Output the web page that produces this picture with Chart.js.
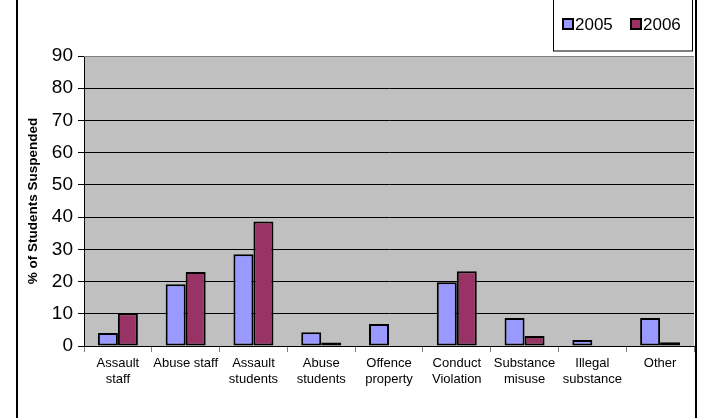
<!DOCTYPE html>
<html>
<head>
<meta charset="utf-8">
<script src="https://cdn.jsdelivr.net/npm/chart.js@4.4.1/dist/chart.umd.min.js"></script>
<style>
    html, body { margin: 0; padding: 0; background: #ffffff; }
    #wrap { width: 707px; height: 418px; }
</style>
</head>
<body>
<div id="wrap"><canvas id="suspChart" width="707" height="418"></canvas></div>
<script>
// Chart data
const categories = [
    ['Assault', 'staff'], 'Abuse staff', ['Assault', 'students'], ['Abuse', 'students'],
    ['Offence', 'property'], ['Conduct', 'Violation'], ['Substance', 'misuse'],
    ['Illegal', 'substance'], 'Other'
];
const seriesNames = ['2005', '2006'];
const values2005 = [4, 19.2, 28.5, 4.3, 6.8, 19.8, 8.7, 1.9, 8.7];
const values2006 = [10.2, 23, 38.6, 1.1, null, 23.2, 3.1, null, 1.2];
const yTickMin = 0;
const yTickMax = 90;
const yTickStep = 10;

const FONT = "'Liberation Sans', Arial, sans-serif";
const seriesColors = ['#9999FF', '#993366'];

// Grey plot background, plot border, outer frame and the boxed legend
const decorPlugin = {
    id: 'decor',
    beforeDraw(chart) {
        const { ctx, chartArea: a } = chart;
        ctx.save();
        ctx.fillStyle = '#C0C0C0';
        ctx.fillRect(a.left, a.top, a.right - a.left, a.bottom - a.top);
        ctx.restore();
    },
    afterDraw(chart) {
        const { ctx, chartArea: a } = chart;
        ctx.save();
        // plot border (top)
        ctx.strokeStyle = '#808080';
        ctx.lineWidth = 1;
        ctx.beginPath();
        ctx.moveTo(a.left, a.top + 0.5);
        ctx.lineTo(a.right, a.top + 0.5);
        ctx.stroke();

        // outer frame lines
        ctx.strokeStyle = '#000000';
        ctx.lineWidth = 2;
        ctx.beginPath();
        ctx.moveTo(17, 0); ctx.lineTo(17, 418);
        ctx.moveTo(696, 0); ctx.lineTo(696, 418);
        ctx.stroke();

        // legend box
        ctx.fillStyle = '#ffffff';
        ctx.fillRect(553, -2, 139, 53);
        ctx.strokeStyle = '#000000';
        ctx.lineWidth = 1;
        ctx.strokeRect(553.5, -2, 139, 53);

        const items = chart.data.datasets.map((ds, i) => ({ label: ds.label, color: seriesColors[i] }));
        const xs = [563, 631];
        ctx.font = '17px ' + FONT;
        ctx.textBaseline = 'middle';
        items.forEach((item, i) => {
            ctx.fillStyle = item.color;
            ctx.fillRect(xs[i], 19, 10, 10);
            ctx.strokeStyle = '#000000';
            ctx.lineWidth = 2;
            ctx.strokeRect(xs[i], 19, 10, 10);
            ctx.fillStyle = '#000000';
            ctx.fillText(item.label, xs[i] + 12, 25);
        });
        ctx.restore();
    }
};

new Chart(document.getElementById('suspChart'), {
    type: 'bar',
    data: {
        labels: categories,
        datasets: [
            {
                label: seriesNames[0],
                data: values2005,
                backgroundColor: seriesColors[0],
                borderColor: '#000000',
                borderWidth: 2,
                borderSkipped: false,
                categoryPercentage: 0.59,
                barPercentage: 1
            },
            {
                label: seriesNames[1],
                data: values2006,
                backgroundColor: seriesColors[1],
                borderColor: '#000000',
                borderWidth: 2,
                borderSkipped: false,
                categoryPercentage: 0.59,
                barPercentage: 1
            }
        ]
    },
    options: {
        responsive: false,
        devicePixelRatio: 1,
        animation: false,
        layout: { padding: { top: 56, left: 17, right: 13, bottom: 0 } },
        plugins: {
            legend: { display: false },
            tooltip: { enabled: false }
        },
        scales: {
            y: {
                min: yTickMin,
                max: yTickMax,
                ticks: {
                    stepSize: yTickStep,
                    color: '#000000',
                    font: { family: FONT, size: 19 },
                    padding: 5
                },
                grid: {
                    color: '#000000',
                    lineWidth: 1,
                    tickLength: 6
                },
                border: { color: '#000000', width: 1 },
                title: {
                    display: true,
                    text: '% of Students Suspended',
                    color: '#000000',
                    font: { family: FONT, size: 13.5, weight: 'bold' },
                    padding: { top: 8, bottom: 0 }
                },
                afterFit(scale) { scale.width = 67; }
            },
            x: {
                ticks: {
                    color: '#000000',
                    font: { family: FONT, size: 13 },
                    maxRotation: 0,
                    autoSkip: false,
                    padding: 4
                },
                grid: {
                    drawOnChartArea: false,
                    color: '#808080',
                    tickLength: 6
                },
                border: { color: '#000000', width: 1 },
                afterFit(scale) { scale.height = 72; }
            }
        }
    },
    plugins: [decorPlugin]
});
</script>
</body>
</html>
